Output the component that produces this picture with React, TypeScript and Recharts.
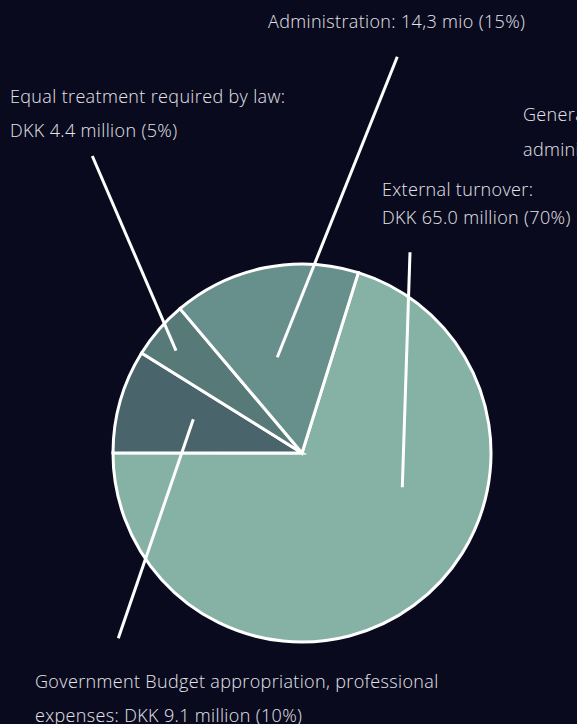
import React from "react";
import { PieChart, Pie, Cell } from "recharts";

// Slice values as drawn (share of total)
const categories = ["External turnover", "Government Budget appropriation", "Equal treatment", "Administration"];
const sliceValues = [65.0, 8.2, 4.6, 14.8];
const sliceColors = ["#86b2a6", "#4a646c", "#577a79", "#678f8b"];

// Label text lines
const labelLines: string[][] = [
  ["External turnover:", "DKK 65.0 million (70%)"],
  ["Government Budget appropriation, professional", "expenses: DKK 9.1 million (10%)"],
  ["Equal treatment required by law:", "DKK 4.4 million (5%)"],
  ["Administration: 14,3 mio (15%)"],
];
const extraLabel = ["General", "administration"];

// Annotation layout: text anchor (x, baseline y, line gap), leader line offsets from pie centre
const labelLayout = [
  { x: 382, y: 196, gap: 28, inner: [100.3, 34.3], outer: [108, -200.7] },
  { x: 35, y: 688, gap: 34, inner: [-108.7, -33.7], outer: [-183.7, 185.3] },
  { x: 10, y: 103, gap: 34, inner: [-126, -102.3], outer: [-209.7, -297] },
  { x: 268, y: 28, gap: 34, inner: [-24.7, -95.7], outer: [95.3, -396.3] },
];

const data = categories.map((name, i) => ({ name, value: sliceValues[i] }));

const FONT = "'Open Sans', 'Noto Sans', sans-serif";
const TEXT_COLOR = "#e4e4e8";
const FONT_SIZE = 18;
const LETTER_SPACING = 0.35;

const renderLabel = (props: any) => {
  const { cx, cy, index } = props;
  const L = labelLayout[index];
  return (
    <g key={`lab-${index}`}>
      <line
        x1={cx + L.inner[0]}
        y1={cy + L.inner[1]}
        x2={cx + L.outer[0]}
        y2={cy + L.outer[1]}
        stroke="#ffffff"
        strokeWidth={3}
      />
      {labelLines[index].map((t, j) => (
        <text
          key={j}
          x={L.x}
          y={L.y + j * L.gap}
          fill={TEXT_COLOR}
          fontFamily={FONT}
          fontSize={FONT_SIZE}
          fontWeight={300}
          letterSpacing={LETTER_SPACING}
          textAnchor="start"
        >
          {t}
        </text>
      ))}
    </g>
  );
};

export default function App() {
  return (
    <div
      style={{
        position: "absolute",
        left: 0,
        top: 0,
        width: 577,
        height: 724,
        background: "#0a0a1f",
        overflow: "hidden",
      }}
    >
      <PieChart width={577} height={724} margin={{ top: 0, right: 0, bottom: 0, left: 0 }}>
        <Pie
          data={data}
          dataKey="value"
          nameKey="name"
          cx={302}
          cy={453}
          outerRadius={189}
          startAngle={72.66}
          endAngle={72.66 - 360}
          stroke="#ffffff"
          strokeWidth={3}
          isAnimationActive={false}
          label={renderLabel}
          labelLine={false}
        >
          {data.map((d, i) => (
            <Cell key={d.name} fill={sliceColors[i]} />
          ))}
        </Pie>
        {extraLabel.map((t, j) => (
          <text
            key={t}
            x={523}
            y={121 + j * 35}
            fill={TEXT_COLOR}
            fontFamily={FONT}
            fontSize={FONT_SIZE}
            fontWeight={300}
            letterSpacing={LETTER_SPACING}
          >
            {t}
          </text>
        ))}
      </PieChart>
    </div>
  );
}
